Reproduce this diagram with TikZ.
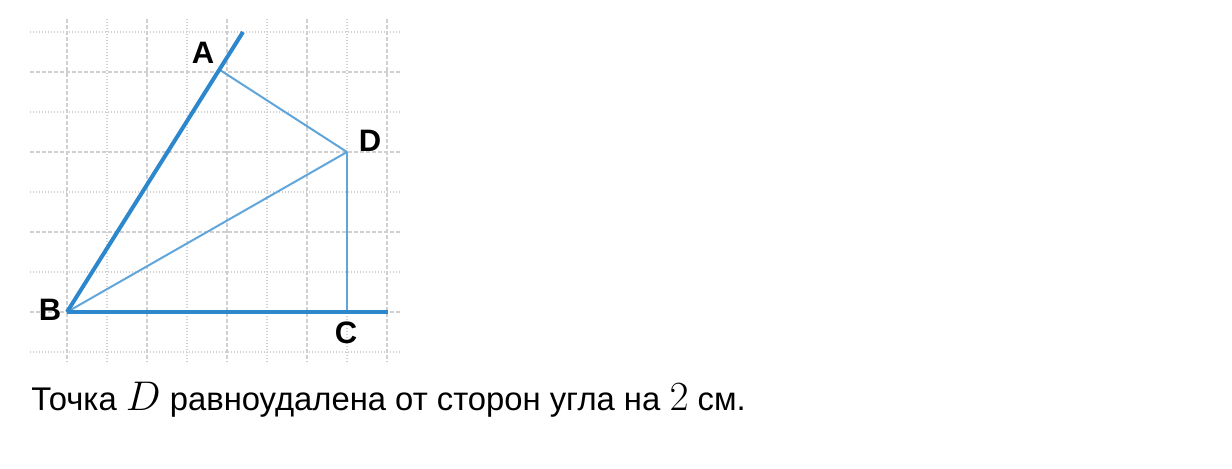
\documentclass[tikz,border=0pt]{standalone}
\usepackage{fontspec}
\setmainfont{Liberation Sans}
\definecolor{gridc}{RGB}{208,208,208}
\definecolor{thickblue}{RGB}{45,135,205}
\definecolor{thinblue}{RGB}{95,165,218}
\newcommand{\mathbig}[1]{{\fontsize{20}{20}\selectfont$#1$}}
\begin{document}
\begin{tikzpicture}[x=0.5pt,y=-0.5pt,
  minorgrid/.style={gridc,line width=0.8pt,dash pattern=on 0.6pt off 0.9pt},
  majorgrid/.style={gridc,line width=0.8pt,dash pattern=on 2pt off 1pt},
  thickline/.style={thickblue,line width=2pt},
  thinline/.style={thinblue,line width=1pt},
  ptlabel/.style={font=\fontsize{15.5}{17}\selectfont\bfseries,inner sep=0pt,text=black},
  caption/.style={font=\fontsize{16.4}{19}\selectfont,inner sep=0pt,anchor=base west}]
\useasboundingbox (0,0) rectangle (1232,468);
% grid
\foreach \k in {0,...,8}{
  \pgfmathtruncatemacro{\odd}{mod(\k,2)}
  \ifnum\odd=0
    \draw[majorgrid] (67+40*\k,19) -- (67+40*\k,362);
    \draw[minorgrid] (30,32+40*\k) -- (400,32+40*\k);
  \else
    \draw[minorgrid] (67+40*\k,19) -- (67+40*\k,362);
    \draw[majorgrid] (30,32+40*\k) -- (400,32+40*\k);
  \fi
}
% points
\coordinate (B) at (67,312);
\coordinate (C) at (347,312);
\coordinate (D) at (347,152);
\coordinate (A) at (220,70);
\coordinate (Aend) at (243,32);
\coordinate (Cend) at (388,312);
% lines
\draw[thinline] (B) -- (D);
\draw[thinline] (A) -- (D);
\draw[thinline] (D) -- (C);
\draw[thickline] (B) -- (Aend);
\draw[thickline] (B) -- (Cend);
% labels
\node[ptlabel] (lA) at (203,53) {A};
\node[ptlabel] (lB) at (50,310) {B};
\node[ptlabel] (lC) at (346,333) {C};
\node[ptlabel] (lD) at (370,141) {D};
\node[caption] (cap) at (31,410) {Точка \mathbig{D} равноудалена от сторон угла на \mathbig{2} см.};
\end{tikzpicture}
\end{document}
